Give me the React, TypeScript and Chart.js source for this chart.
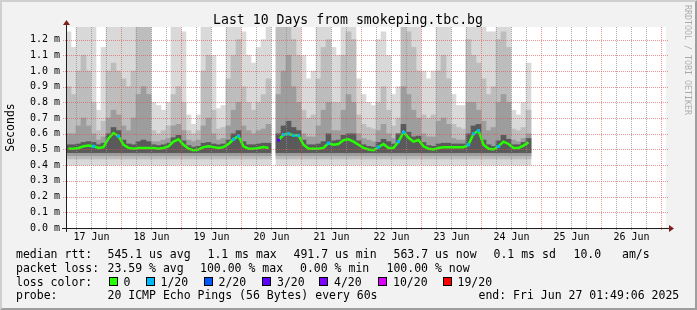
import React, { useEffect, useRef } from 'react';
import { Chart, registerables } from 'chart.js';

Chart.register(...registerables);

const WIDTH = 697;
const HEIGHT = 310;
const FONT = '"DejaVu Sans Mono", monospace';

const chartTitle = 'Last 10 Days from smokeping.tbc.bg';
const yAxisTitle = 'Seconds';
const watermark = 'RRDTOOL / TOBI OETIKER';
const rangeHours = 240;
const binHours = 2;
// graph starts Jun 17 01:49:06 (end Jun 27 01:49:06 minus 10 days)
const startHourOfDay = 1 + 49 / 60 + 6 / 3600;
const dayLabels = ['17 Jun', '18 Jun', '19 Jun', '20 Jun', '21 Jun', '22 Jun', '23 Jun', '24 Jun', '25 Jun', '26 Jun'];
const yTickValues = [0, 0.1, 0.2, 0.3, 0.4, 0.5, 0.6, 0.7, 0.8, 0.9, 1.0, 1.1, 1.2];
const yMax = 1.28;

// median RTT per 2-hour bin (ms)
const medianRtt = [
  0.505, 0.505, 0.51, 0.52, 0.525, 0.52, 0.51, 0.515, 0.57, 0.605,
  0.585, 0.53, 0.51, 0.505, 0.51, 0.51, 0.51, 0.51, 0.505, 0.51,
  0.52, 0.55, 0.565, 0.53, 0.505, 0.495, 0.5, 0.515, 0.52, 0.515,
  0.51, 0.515, 0.535, 0.565, 0.585, 0.52, 0.505, 0.505, 0.51, 0.515,
  0.51, null, 0.56, 0.595, 0.6, 0.59, 0.59, 0.53, 0.505, 0.505,
  0.505, 0.51, 0.54, 0.53, 0.535, 0.56, 0.565, 0.55, 0.53, 0.51,
  0.5, 0.495, 0.515, 0.535, 0.51, 0.51, 0.55, 0.61, 0.575, 0.55,
  0.56, 0.52, 0.505, 0.5, 0.51, 0.515, 0.515, 0.515, 0.515, 0.515,
  0.53, 0.6, 0.62, 0.53, 0.505, 0.5, 0.52, 0.55, 0.535, 0.51,
  0.51, 0.525, 0.545,
];

// lost pings (of 20) per bin
const lossCount = [
  0, 0, 0, 0, 0, 1, 0, 0, 0, 0,
  1, 0, 0, 0, 0, 0, 0, 0, 0, 0,
  0, 0, 0, 0, 0, 0, 0, 0, 0, 0,
  0, 0, 0, 1, 1, 0, 0, 0, 0, 0,
  0, 0, 3, 1, 1, 1, 1, 0, 0, 0,
  0, 0, 1, 0, 0, 0, 0, 0, 0, 0,
  0, 0, 1, 0, 0, 0, 1, 1, 0, 0,
  0, 0, 0, 0, 0, 0, 0, 0, 0, 0,
  1, 1, 1, 0, 0, 0, 1, 0, 0, 0,
  0, 0, 0,
];

// smoke: upper edge of the outer (light) band per bin
const smokeTop = [
  1.25, 1.15, 1.3, 1.3, 1.3, 1.3, 0.75, 1.15, 1.3, 1.3,
  1.3, 1.3, 1.3, 1.3, 1.3, 1.3, 1.3, 0.8, 0.78, 0.75,
  0.8, 1.3, 1.3, 1.25, 0.72, 0.66, 0.72, 1.3, 1.3, 1.1,
  0.76, 0.78, 1.3, 1.3, 1.3, 1.25, 1.1, 1.05, 1.15, 1.2,
  1.3, null, 1.3, 1.3, 1.3, 1.3, 1.3, 1.1, 0.95, 1.0,
  1.3, 1.3, 1.3, 1.15, 1.1, 1.3, 1.3, 1.3, 0.95, 0.85,
  0.8, 0.78, 1.2, 1.25, 1.1, 0.85, 0.9, 1.3, 1.3, 1.3,
  1.3, 1.0, 0.95, 1.0, 1.3, 1.3, 1.3, 0.85, 0.78, 0.78,
  1.3, 1.3, 1.3, 1.3, 1.25, 1.25, 1.3, 1.3, 1.3, 0.75,
  0.72, 0.8, 1.05,
];
// smoke: upper edge of the middle band
const smokeUpper = [
  0.9, 0.85, 1.0, 1.1, 1.0, 0.8, 0.62, 0.68, 1.0, 1.05,
  1.0, 0.95, 0.9, 1.0, 1.3, 1.3, 1.3, 0.62, 0.6, 0.62,
  0.65, 0.85, 0.9, 0.8, 0.62, 0.6, 0.62, 1.0, 1.1, 0.75,
  0.63, 0.64, 0.95, 1.1, 1.2, 0.9, 0.8, 0.75, 0.8, 0.85,
  0.95, null, 1.3, 1.3, 1.3, 1.2, 1.1, 0.75, 0.7, 0.72,
  0.95, 1.15, 1.2, 0.8, 0.8, 1.1, 1.25, 1.2, 0.72, 0.66,
  0.64, 0.63, 0.8, 0.9, 0.75, 0.65, 0.7, 1.3, 1.25, 1.15,
  1.0, 0.72, 0.7, 0.72, 1.0, 1.1, 0.95, 0.66, 0.64, 0.63,
  1.2, 1.1, 1.05, 0.95, 0.85, 0.9, 1.2, 1.25, 1.15, 0.63,
  0.62, 0.64, 0.75,
];
// smoke: upper edge of the inner band
const smokeInner = [
  0.6, 0.6, 0.65, 0.7, 0.65, 0.6, 0.56, 0.58, 0.7, 0.75,
  0.72, 0.65, 0.62, 0.7, 0.85, 0.9, 0.85, 0.55, 0.55, 0.56,
  0.57, 0.65, 0.66, 0.62, 0.56, 0.55, 0.56, 0.65, 0.7, 0.6,
  0.56, 0.57, 0.65, 0.75, 0.8, 0.65, 0.62, 0.6, 0.62, 0.63,
  0.66, null, 0.85, 1.0, 1.1, 0.9, 0.8, 0.6, 0.58, 0.58,
  0.65, 0.75, 0.8, 0.62, 0.62, 0.75, 0.85, 0.8, 0.6, 0.57,
  0.56, 0.55, 0.62, 0.66, 0.6, 0.57, 0.6, 0.9, 0.85, 0.75,
  0.7, 0.6, 0.58, 0.58, 0.68, 0.7, 0.66, 0.57, 0.56, 0.56,
  0.8, 0.8, 0.75, 0.68, 0.62, 0.64, 0.8, 0.85, 0.8, 0.56,
  0.55, 0.57, 0.6,
];
// smoke: upper edge of the dark core around the median
const smokeCore = [
  0.53, 0.53, 0.535, 0.545, 0.55, 0.545, 0.53, 0.54, 0.6, 0.64,
  0.62, 0.56, 0.535, 0.53, 0.55, 0.56, 0.55, 0.53, 0.525, 0.53,
  0.54, 0.575, 0.59, 0.555, 0.525, 0.515, 0.52, 0.54, 0.545, 0.535,
  0.53, 0.535, 0.56, 0.6, 0.62, 0.55, 0.53, 0.53, 0.535, 0.54,
  0.54, null, 0.6, 0.65, 0.68, 0.64, 0.62, 0.56, 0.53, 0.53,
  0.535, 0.55, 0.6, 0.555, 0.56, 0.59, 0.6, 0.6, 0.555, 0.53,
  0.52, 0.515, 0.545, 0.565, 0.55, 0.535, 0.6, 0.66, 0.61, 0.58,
  0.585, 0.545, 0.525, 0.52, 0.535, 0.54, 0.54, 0.535, 0.535, 0.535,
  0.6, 0.65, 0.66, 0.56, 0.53, 0.52, 0.555, 0.59, 0.565, 0.53,
  0.53, 0.545, 0.57,
];
// lower edges of the smoke bands (ms)
const smokeFloorLight = 0.4;
const smokeFloorMid = 0.44;
const smokeFloorInner = 0.46;
const smokeFloorCore = 0.48;

const lossThresholds = [0, 1, 2, 3, 4, 10, 19];
const lossLabels = ['0', '1/20', '2/20', '3/20', '4/20', '10/20', '19/20'];
const lossColors = ['#26ff00', '#00b8ff', '#0059ff', '#5e00ff', '#7e00ff', '#dd00ff', '#ff0000'];
const lossLegendX = [123.5, 160.5, 218.5, 277, 334, 393, 457.5];

const statsRtt: [string, number][] = [
  ['median rtt:', 16], ['545.1 us avg', 107.5], ['1.1 ms max', 207.5], ['491.7 us min', 293.5],
  ['563.7 us now', 393.5], ['0.1 ms sd', 493.5], ['10.0', 573.5], ['am/s', 622],
];
const statsLoss: [string, number][] = [
  ['packet loss:', 16], ['23.59 % avg', 107.5], ['100.00 % max', 200], ['0.00 % min', 300], ['100.00 % now', 386.5],
];
const probeLine: [string, number][] = [
  ['probe:', 16], ['20 ICMP Echo Pings (56 Bytes) every 60s', 107.5], ['end: Fri Jun 27 01:49:06 2025', 478.5],
];

function lossColor(n: number) {
  let c = lossColors[0];
  lossThresholds.forEach((t, i) => { if (n >= t) c = lossColors[i]; });
  return c;
}

const noonHours = dayLabels.map((_, k) => k * 24 + 12 - startHourOfDay);
const midnightHours = dayLabels.map((_, k) => (k + 1) * 24 - startHourOfDay);
const sixHourMarks: number[] = [];
for (let n = 1; n * 6 - startHourOfDay < rangeHours; n++) {
  const h = n * 6 - startHourOfDay;
  if (h > 0 && n % 4 !== 0) sixHourMarks.push(h);
}

const rrdPlugin = {
  id: 'rrdFrame',
  beforeDraw(chart: any) {
    const { ctx, chartArea: a } = chart;
    ctx.save();
    ctx.fillStyle = '#f2f2f2';
    ctx.fillRect(0, 0, WIDTH, HEIGHT);
    ctx.fillStyle = '#cfcfcf';
    ctx.beginPath();
    ctx.moveTo(0, HEIGHT); ctx.lineTo(2, HEIGHT - 2); ctx.lineTo(2, 2); ctx.lineTo(WIDTH - 2, 2); ctx.lineTo(WIDTH, 0); ctx.lineTo(0, 0);
    ctx.closePath(); ctx.fill();
    ctx.fillStyle = '#9e9e9e';
    ctx.beginPath();
    ctx.moveTo(2, HEIGHT - 2); ctx.lineTo(WIDTH - 2, HEIGHT - 2); ctx.lineTo(WIDTH - 2, 2); ctx.lineTo(WIDTH, 0); ctx.lineTo(WIDTH, HEIGHT); ctx.lineTo(0, HEIGHT);
    ctx.closePath(); ctx.fill();
    ctx.fillStyle = '#ffffff';
    ctx.fillRect(a.left, a.top, a.right - a.left, a.bottom - a.top);
    ctx.restore();
  },
  afterDatasetsDraw(chart: any) {
    const { ctx, chartArea: a, scales } = chart;
    const xs = scales.x;
    const ys = scales.y;
    ctx.save();
    const dotsV = (px: number, color: string) => {
      ctx.fillStyle = color;
      for (let y = a.top; y < a.bottom + 3; y += 2) ctx.fillRect(px, y, 1, 1);
    };
    const dotsH = (py: number, color: string) => {
      ctx.fillStyle = color;
      for (let x = a.left - 3; x < a.right + 3; x += 2) ctx.fillRect(x, py, 1, 1);
    };
    sixHourMarks.forEach((h) => dotsV(Math.round(xs.getPixelForValue(h)), 'rgba(143,143,143,0.75)'));
    midnightHours.forEach((h) => dotsV(Math.round(xs.getPixelForValue(h)), 'rgba(222,79,79,0.6)'));
    yTickValues.forEach((v) => { if (v > 0) dotsH(Math.round(ys.getPixelForValue(v)), 'rgba(222,79,79,0.6)'); });
    // axes
    const x0 = Math.round(a.left);
    const y0 = Math.round(a.bottom);
    ctx.fillStyle = '#1f1f1f';
    ctx.fillRect(x0 - 4, y0, a.right - a.left + 8, 1);
    ctx.fillRect(x0, a.top - 3, 1, a.bottom - a.top + 7);
    ctx.fillStyle = '#801f1f';
    ctx.beginPath();
    ctx.moveTo(a.right + 3, y0 - 3); ctx.lineTo(a.right + 3, y0 + 4); ctx.lineTo(a.right + 8, y0 + 0.5); ctx.closePath(); ctx.fill();
    ctx.beginPath();
    ctx.moveTo(x0 - 3, a.top - 2); ctx.lineTo(x0 + 4, a.top - 2); ctx.lineTo(x0 + 0.5, a.top - 7); ctx.closePath(); ctx.fill();
    ctx.restore();
  },
};

export default function App() {
  const canvasRef = useRef<HTMLCanvasElement>(null);

  useEffect(() => {
    document.body.style.margin = '0';
    const canvas = canvasRef.current;
    if (!canvas) return;
    const binCenter = (i: number) => i * binHours + binHours / 2;
    const band = (tops: (number | null)[], floor: number) =>
      tops.map((t, i) => ({ x: binCenter(i), y: t == null ? null : [floor, t] }));
    const barStyle = { type: 'bar' as const, barPercentage: 1, categoryPercentage: 1, grouped: false, borderWidth: 0 };

    const chart = new Chart(canvas, {
      type: 'bar',
      data: {
        datasets: [
          {
            type: 'line',
            label: 'median',
            data: medianRtt.map((v, i) => ({ x: binCenter(i), y: v })) as any,
            borderColor: '#26ff00',
            borderWidth: 2.5,
            tension: 0,
            spanGaps: false,
            pointStyle: 'rect',
            pointRadius: (c: any) => (lossCount[c.dataIndex] > 0 ? 2.2 : 0),
            pointBackgroundColor: (c: any) => lossColor(lossCount[c.dataIndex]),
            pointBorderWidth: 0,
            order: 0,
          } as any,
          { ...barStyle, label: 'core', data: band(smokeCore, smokeFloorCore) as any, backgroundColor: '#5a5a5a', order: 1 } as any,
          { ...barStyle, label: 'inner', data: band(smokeInner, smokeFloorInner) as any, backgroundColor: '#9d9d9d', order: 2 } as any,
          { ...barStyle, label: 'middle', data: band(smokeUpper, smokeFloorMid) as any, backgroundColor: '#bdbdbd', order: 3 } as any,
          { ...barStyle, label: 'outer', data: band(smokeTop, smokeFloorLight) as any, backgroundColor: '#d9d9d9', order: 4 } as any,
        ],
      },
      options: {
        animation: false,
        responsive: false,
        devicePixelRatio: 1,
        layout: { padding: { top: 27, right: 31, left: 0, bottom: 0 } },
        plugins: { legend: { display: false }, title: { display: false }, tooltip: { enabled: false } },
        scales: {
          x: {
            type: 'linear',
            min: 0,
            max: rangeHours,
            offset: false,
            grid: { display: false, drawTicks: false },
            border: { display: false },
            ticks: {
              autoSkip: false,
              maxRotation: 0,
              padding: 3,
              color: '#000',
              font: { family: FONT, size: 10 },
              callback: (_v: any, idx: number) => dayLabels[idx],
            },
            afterBuildTicks: (s: any) => { s.ticks = noonHours.map((v) => ({ value: v })); },
            afterFit: (s: any) => { s.height = 82; },
          },
          y: {
            type: 'linear',
            min: 0,
            max: yMax,
            grid: { display: false, drawTicks: false },
            border: { display: false },
            ticks: {
              autoSkip: false,
              padding: 6,
              color: '#000',
              font: { family: FONT, size: 10 },
              callback: (v: any) => Number(v).toFixed(1) + ' m',
            },
            title: { display: true, text: yAxisTitle, color: '#000', font: { family: FONT, size: 11.5 }, padding: { top: 4, bottom: 0 } },
            afterBuildTicks: (s: any) => { s.ticks = yTickValues.map((v) => ({ value: v })); },
            afterFit: (s: any) => { s.width = 66; },
          },
        },
      } as any,
      plugins: [rrdPlugin],
    });
    return () => chart.destroy();
  }, []);

  const textStyle: React.CSSProperties = {
    position: 'absolute',
    font: `11.5px ${FONT}`,
    lineHeight: '14px',
    whiteSpace: 'pre',
    color: '#000',
  };
  const lineTops = [247, 261, 274.5, 288];

  return (
    <div style={{ position: 'relative', width: WIDTH, height: HEIGHT, overflow: 'hidden', background: '#f2f2f2' }}>
      <canvas ref={canvasRef} width={WIDTH} height={HEIGHT} style={{ position: 'absolute', left: 0, top: 0, width: WIDTH, height: HEIGHT }} />
      <div style={{ position: 'absolute', left: 0, top: 12, width: WIDTH - 1, textAlign: 'center', font: `13.2px ${FONT}`, lineHeight: '15px', color: '#000', whiteSpace: 'pre' }}>
        {chartTitle}
      </div>
      <div style={{ position: 'absolute', left: 683, top: 5, width: 10, font: `8.3px ${FONT}`, lineHeight: '10px', writingMode: 'vertical-rl', color: 'rgba(0,0,0,0.3)', whiteSpace: 'pre' }}>
        {watermark}
      </div>
      {statsRtt.map(([t, x], i) => (
        <span key={'r' + i} style={{ ...textStyle, left: x, top: lineTops[0] }}>{t}</span>
      ))}
      {statsLoss.map(([t, x], i) => (
        <span key={'l' + i} style={{ ...textStyle, left: x, top: lineTops[1] }}>{t}</span>
      ))}
      <span style={{ ...textStyle, left: 16, top: lineTops[2] }}>loss color:</span>
      {lossLabels.map((t, i) => (
        <React.Fragment key={'c' + i}>
          <span style={{ position: 'absolute', left: lossLegendX[i] - 15, top: 277, width: 7, height: 7, border: '1px solid #000', background: lossColors[i] }} />
          <span style={{ ...textStyle, left: lossLegendX[i], top: lineTops[2] }}>{t}</span>
        </React.Fragment>
      ))}
      {probeLine.map(([t, x], i) => (
        <span key={'p' + i} style={{ ...textStyle, left: x, top: lineTops[3] }}>{t}</span>
      ))}
    </div>
  );
}
